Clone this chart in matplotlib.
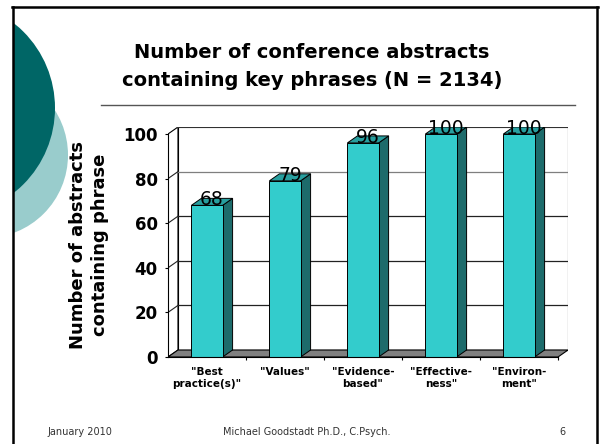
import matplotlib
matplotlib.use("Agg")
import matplotlib.pyplot as plt
from matplotlib.patches import Polygon, Circle, Rectangle

# data
categories = ['"Best\npractice(s)"', '"Values"', '"Evidence-\nbased"',
              '"Effective-\nness"', '"Environ-\nment"']
counts = [68, 79, 96, 100, 100]
y_ticks = [0, 20, 40, 60, 80, 100]

title_lines = ["Number of conference abstracts", "containing key phrases (N = 2134)"]
y_label = "Number of abstracts\ncontaining phrase"
footer = ["January 2010", "Michael Goodstadt Ph.D., C.Psych.", "6"]

# styling
W, H = 602, 444
FACE = "#33cccc"
SIDE = "#1d6b6b"
TOP = "#289f9f"
FLOOR = "#808080"
DX, DY = 0.128, 3.14      # fake 3d depth in data units
BAR_W = 0.40

fig = plt.figure(figsize=(W / 100, H / 100), dpi=100)

# slide background: frame, circles, rule
bg = fig.add_axes([0, 0, 1, 1])
bg.set_xlim(0, W)
bg.set_ylim(H, 0)
bg.axis("off")
clip = Rectangle((13, 7), 584, 437, transform=bg.transData, fill=False)
for (cx, cy, r, col) in [(-15, 155, 83, "#99cccc"), (-53, 108, 108, "#006666")]:
    c = Circle((cx, cy), r, color=col, lw=0)
    bg.add_patch(c)
    c.set_clip_path(clip)
bg.plot([13, 13], [7, H], color="black", lw=1.8)
bg.plot([597, 597], [7, H], color="black", lw=1.8)
bg.plot([12, 598], [7, 7], color="black", lw=1.8)
bg.plot([101, 575], [105, 105], color="#555555", lw=1)

fig.text(312 / W, 1 - 52 / H, title_lines[0], ha="center", va="center",
         fontsize=14, fontweight="bold")
fig.text(312 / W, 1 - 81 / H, title_lines[1], ha="center", va="center",
         fontsize=14, fontweight="bold")

fig.text(89 / W, 1 - 245 / H, y_label, rotation=90, ha="center", va="center",
         fontsize=13, fontweight="bold", multialignment="center", linespacing=1.3)

fig.text(47 / W, 1 - 432 / H, footer[0], ha="left", va="center", fontsize=7, color="#333333")
fig.text(307 / W, 1 - 432 / H, footer[1], ha="center", va="center", fontsize=7, color="#333333")
fig.text(562 / W, 1 - 432 / H, footer[2], ha="center", va="center", fontsize=7, color="#333333")

# chart
ax = fig.add_axes([168 / W, (H - 357) / H, 400 / W, 230 / H])
ax.patch.set_visible(False)
n = len(counts)
x0, x1 = -0.5, n - 0.5
ax.set_xlim(x0, x1 + DX)
ax.set_ylim(0, y_ticks[-1] + DY)

# back wall, left wall, floor
ax.add_patch(Polygon([(x0 + DX, DY), (x1 + DX, DY), (x1 + DX, y_ticks[-1] + DY),
                      (x0 + DX, y_ticks[-1] + DY)], closed=True, fc="white",
                     ec="black", lw=0.8, zorder=1))
ax.add_patch(Polygon([(x0, 0), (x0 + DX, DY), (x0 + DX, y_ticks[-1] + DY),
                      (x0, y_ticks[-1])], closed=True, fc="white", ec="black",
                     lw=0.8, zorder=1))
for t in y_ticks[1:-1]:
    col = "#7f7f7f" if t == 80 else "#222222"
    ax.plot([x0 + DX, x1 + DX], [t + DY, t + DY], color=col, lw=0.9, zorder=1.5)
    ax.plot([x0, x0 + DX], [t, t + DY], color="#222222", lw=0.8, zorder=1.5)
ax.plot([x0 + DX, x1 + DX], [y_ticks[-1] + DY] * 2, color="#333333", lw=1.4, zorder=1.6)
ax.add_patch(Polygon([(x0, 0), (x1, 0), (x1 + DX, DY), (x0 + DX, DY)], closed=True,
                     fc=FLOOR, ec="black", lw=0.8, zorder=2))

# bars
for i, v in enumerate(counts):
    l, r = i - BAR_W / 2, i + BAR_W / 2
    ax.add_patch(Polygon([(r, 0), (r + DX, DY), (r + DX, v + DY), (r, v)], closed=True,
                         fc=SIDE, ec="black", lw=0.7, zorder=3))
    ax.add_patch(Polygon([(l, v), (l + DX, v + DY), (r + DX, v + DY), (r, v)], closed=True,
                         fc=TOP, ec="black", lw=0.7, zorder=3))
    ax.add_patch(Rectangle((l, 0), BAR_W, v, fc=FACE, ec="black", lw=0.7, zorder=3.1))
    ax.annotate(str(v), (i + DX / 2, v), xytext=(0, 4), textcoords="offset points",
                ha="center", va="center", fontsize=13.5, zorder=4)

# axes
for s in ["top", "right"]:
    ax.spines[s].set_visible(False)
ax.spines["left"].set_bounds(0, y_ticks[-1])
ax.spines["bottom"].set_bounds(x0, x1)
ax.spines["left"].set_zorder(3.5)
ax.spines["bottom"].set_zorder(3.5)

ax.set_yticks(y_ticks)
ax.set_yticklabels([str(t) for t in y_ticks], fontsize=12, fontweight="bold")
ax.tick_params(axis="y", direction="out", length=2.5, width=0.8, pad=5)

ax.set_xticks(range(n))
ax.set_xticklabels(categories, fontsize=7.5, fontweight="bold")
ax.set_xticks([i + 0.5 for i in range(n)], minor=True)
ax.tick_params(axis="x", which="major", length=0, pad=7.5)
ax.tick_params(axis="x", which="minor", direction="out", length=2.5, width=0.8)

fig.savefig("out.png", dpi=100)
